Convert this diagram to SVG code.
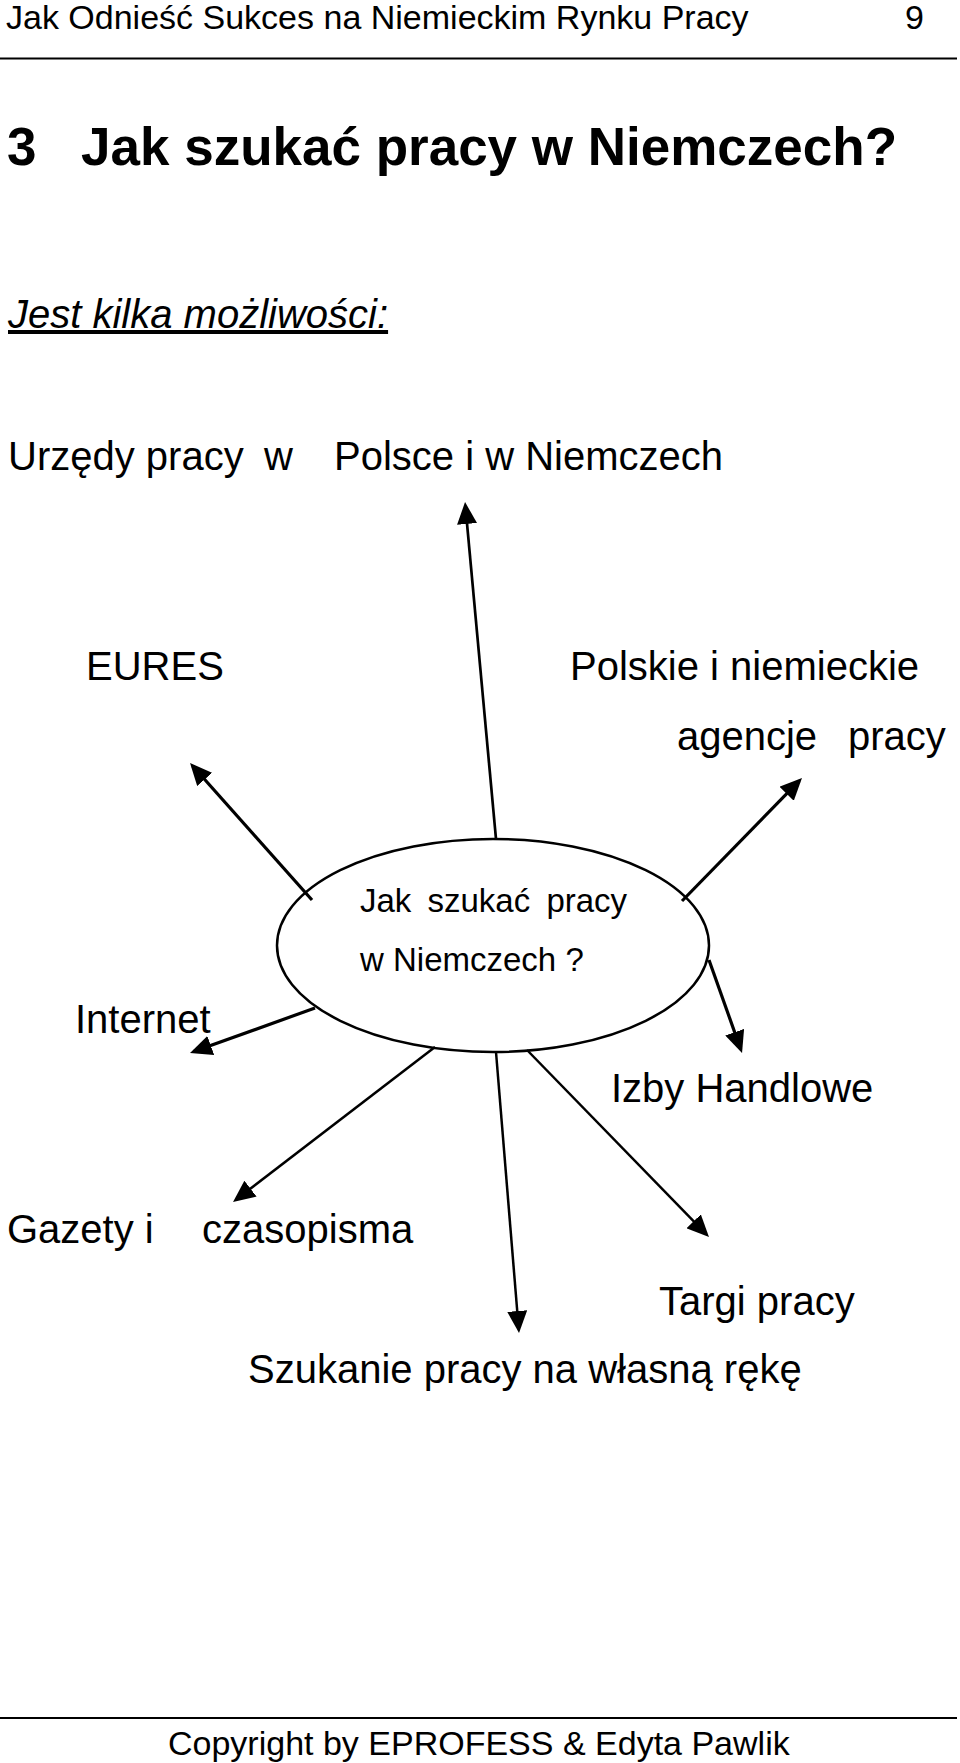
<svg xmlns="http://www.w3.org/2000/svg" width="960" height="1763" viewBox="0 0 960 1763">
<style>
text{font-family:"Liberation Sans",Arial,sans-serif;fill:#000}
.t40{font-size:40px}
.t34{font-size:34px}
.t33{font-size:33px}
.rule{stroke:#000;stroke-width:2}
.c{stroke:#000;fill:none;marker-end:url(#ah)}
.w3{stroke-width:3.2}
.w25{stroke-width:2.7}
.w2{stroke-width:2.5}
</style>
<defs>
<marker id="ah" markerUnits="userSpaceOnUse" markerWidth="22" markerHeight="20" refX="18" refY="10" orient="auto" viewBox="0 0 22 20">
<path d="M0,0 L22,10 L0,20 z" fill="#000"/>
</marker>
</defs>
<rect width="960" height="1763" fill="#fff"/>
<g id="header">
<text class="t34" x="6" y="28.5">Jak Odnieść Sukces na Niemieckim Rynku Pracy</text>
<text class="t34" x="905" y="28.5">9</text>
<line class="rule" x1="0" y1="58.5" x2="957" y2="58.5"/>
</g>
<g id="title">
<text x="7" y="165" style="font-size:53px;font-weight:bold">3</text>
<text x="81" y="165" style="font-size:53px;font-weight:bold">Jak szukać pracy w Niemczech?</text>
</g>
<g id="intro">
<text class="t40" x="8" y="328" style="font-style:italic;text-decoration:underline">Jest kilka możliwości:</text>
</g>
<g id="node-urzedy">
<text class="t40" y="470"><tspan x="8">Urzędy pracy</tspan><tspan x="264">w</tspan><tspan x="334">Polsce i w Niemczech</tspan></text>
</g>
<g id="node-eures">
<text class="t40" x="86" y="680">EURES</text>
</g>
<g id="node-agencje">
<text class="t40" x="570" y="680">Polskie i niemieckie</text>
<text class="t40" y="750"><tspan x="677">agencje</tspan><tspan x="848">pracy</tspan></text>
</g>
<g id="node-center">
<ellipse cx="493" cy="945.5" rx="216" ry="106.5" fill="#fff" stroke="#000" stroke-width="2.5"/>
<text class="t33" x="360" y="912" style="word-spacing:7px">Jak szukać pracy</text>
<text class="t33" x="360" y="971">w Niemczech ?</text>
</g>
<g id="node-internet">
<text class="t40" x="75" y="1033">Internet</text>
</g>
<g id="node-izby">
<text class="t40" x="611" y="1102">Izby Handlowe</text>
</g>
<g id="node-gazety">
<text class="t40" y="1243"><tspan x="7">Gazety i</tspan><tspan x="202">czasopisma</tspan></text>
</g>
<g id="node-targi">
<text class="t40" x="659" y="1315">Targi pracy</text>
</g>
<g id="node-szukanie">
<text class="t40" x="248" y="1383">Szukanie pracy na własną rękę</text>
</g>
<g id="connectors">
<line class="c w25" x1="496" y1="839" x2="465.4" y2="506"/>
<line class="c w3" x1="312" y1="900" x2="192.7" y2="766"/>
<line class="c w3" x1="682" y1="901" x2="799.2" y2="780.9"/>
<line class="c w3" x1="709" y1="960" x2="740.7" y2="1049.2"/>
<line class="c w3" x1="315" y1="1008" x2="193.8" y2="1051.6"/>
<line class="c w2" x1="435" y1="1047" x2="236.2" y2="1199.6"/>
<line class="c w2" x1="496" y1="1052" x2="518.7" y2="1329"/>
<line class="c w2" x1="527" y1="1050" x2="706.2" y2="1234.2"/>
</g>
<g id="footer">
<line class="rule" x1="0" y1="1718" x2="957" y2="1718"/>
<text class="t34" x="168" y="1755">Copyright by EPROFESS &amp; Edyta Pawlik</text>
</g>
</svg>
